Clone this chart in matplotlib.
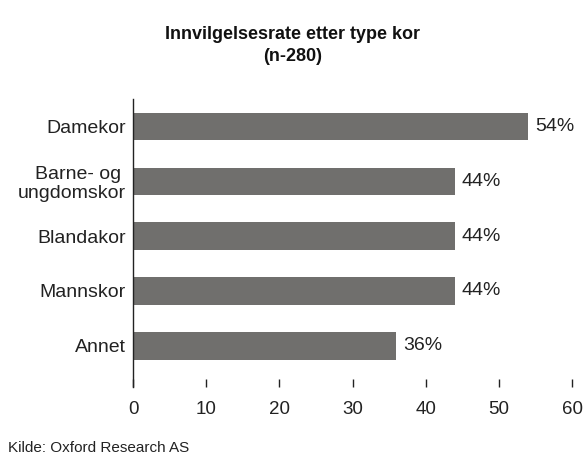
import matplotlib.pyplot as plt
import numpy as np

plt.rcParams['font.family'] = ['Liberation Sans', 'DejaVu Sans']

# data, bottom to top
categories = ['Annet', 'Mannskor', 'Blandakor', 'Barne- og \nungdomskor', 'Damekor']
values = [36, 44, 44, 44, 54]
labels = ['36%', '44%', '44%', '44%', '54%']
xticks = [0, 10, 20, 30, 40, 50, 60]

bar_color = '#706f6d'
text_color = '#222222'

fig = plt.figure(figsize=(5.85, 4.55), dpi=100)
ax = fig.add_axes([0.2274, 0.1495, 0.7504, 0.6329])

y = np.arange(len(categories))
ax.barh(y, values, height=0.5, color=bar_color)

for yi, v, lab in zip(y, values, labels):
    ax.annotate(lab, (v, yi), xytext=(5, 0), textcoords='offset points',
                va='center', ha='left', fontsize=14, color=text_color)

ax.set_xlim(0, 60)
ax.set_ylim(-0.75, 4.5)
ax.set_xticks(xticks)
ax.set_yticks(y)
ax.set_yticklabels(categories, fontsize=14, color=text_color, linespacing=1.1)

for s in ['top', 'right', 'bottom']:
    ax.spines[s].set_visible(False)
ax.spines['left'].set_color('#222222')
ax.spines['left'].set_linewidth(1.0)

ax.tick_params(axis='y', length=0, pad=5)
ax.tick_params(axis='x', direction='in', length=6, width=1, color='#222222',
               labelsize=13.5, labelcolor=text_color, pad=10)

fig.text(0.5, 0.9, 'Innvilgelsesrate etter type kor\n(n-280)', ha='center', va='center',
         fontsize=13, fontweight='bold', color='#111111', linespacing=1.45)
fig.text(0.014, 0.0066, 'Kilde: Oxford Research AS', ha='left', va='baseline',
         fontsize=11, color=text_color)

fig.savefig('out.png', dpi=100)
